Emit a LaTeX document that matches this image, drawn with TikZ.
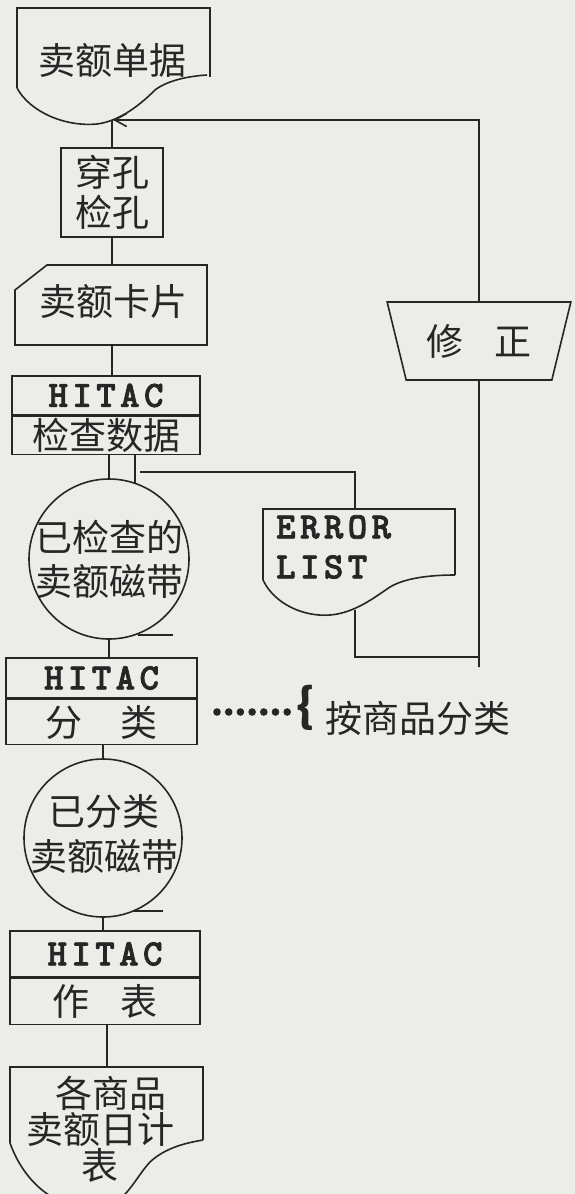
\documentclass[tikz,border=0pt]{standalone}
\usepackage{fontspec}
\setmainfont{Noto Sans CJK SC}
\newfontfamily\hitacfont{lmmonolt10-bold.otf}[LetterSpace=12, FakeBold=2]
\usetikzlibrary{arrows.meta, shapes.geometric, calc}
\definecolor{paper}{RGB}{236,236,232}
\definecolor{ink}{RGB}{38,38,38}
\tikzset{
	inkline/.style = {draw=ink, line width=1.6pt},
	cjk/.style = {font=\fontsize{37}{44}\selectfont, text=ink, inner sep=0pt, align=center},
	mono/.style = {font=\fontsize{37}{40}\hitacfont, text=ink, inner sep=0pt, align=left},
	procbox/.style = {inkline, cjk, rectangle},
	headbox/.style = {inkline, mono, rectangle, align=center},
	tapering/.style = {inkline, circle, inner sep=0pt},
}

\begin{document}
\begin{tikzpicture}[x=1pt, y=-1pt]
	\fill[paper] (0,0) rectangle (575,1194);
	\useasboundingbox (0,0) rectangle (575,1194);

	\node[cjk] (src) at (112,61) {卖额单据};
	\draw[inkline] (17,88) -- (17,8) -- (210,8) -- (210,77);
	\draw[inkline] (17,88) .. controls (30,112) and (65,127) .. (97,124) .. controls (120,121) and (140,105) .. (155,90) .. controls (168,80) and (190,76) .. (207,75);
	\coordinate (src in) at (113,120);

	\node[procbox, minimum width=102pt, minimum height=89pt, font=\fontsize{37}{40}\selectfont] (punch) at (112,192.5) {穿孔\\检孔};
	\draw[inkline] (punch.north) -- (punch.north |- src in);

	\node[cjk] (card) at (113,302) {卖额卡片};
	\draw[inkline] (47,265) -- (207,265) -- (207,345) -- (15,345) -- (15,290) -- cycle;
	\coordinate (card top) at (112,265);
	\coordinate (card bot) at (112,345);
	\draw[inkline] (punch.south) -- (card top);

	\node[headbox, minimum width=188pt, minimum height=39pt] (chk head) at (106,395.5) {HITAC};
	\node[procbox, minimum width=188pt, minimum height=38pt, anchor=north] (chk body) at (chk head.south) {检查数据};
	\draw[inkline] (card bot) -- (card bot |- chk head.north);

	\node[tapering, minimum size=160pt] (tape1) at (109,559) {};
	\node[cjk] (tape1 text) at (tape1) {已检查的\\卖额磁带};
	\draw[inkline] ($(tape1.south)+(29,-5)$) -- ++(35,0);
	\draw[inkline] (chk body.south -| tape1) -- (tape1.north);
	\draw[inkline] ($(chk body.south)+(29,0)$) -- ++(0,28);

	\node[mono, anchor=west] (err) at (276,547) {ERROR\\LIST};
	\draw[inkline] (263,580) -- (263,509) -- (455,509) -- (455,575);
	\draw[inkline] (263,580) .. controls (275,605) and (305,617) .. (330,615) .. controls (355,613) and (375,597) .. (390,587) .. controls (405,578) and (430,575) .. (455,575);
	\coordinate (err top) at (355,509);
	\coordinate (err tap) at (140,472);
	\coordinate (err bot) at (355,610);
	\draw[inkline] (err tap) -| (err top);

	\node[trapezium, shape border rotate=180, trapezium stretches, trapezium left angle=68, trapezium right angle=68, minimum width=184pt, minimum height=78pt, inkline, cjk] (fix) at (479,341) {修\hspace{0.85em}正};
	\coordinate (loop) at (479,657);
	\draw[inkline] (err bot) |- (loop);
	\draw[inkline] (fix.south) -- ($(loop)+(0,10)$);
	\draw[inkline, -{Straight Barb[length=12pt, width=13pt]}] (fix.north) |- (src in);

	\node[headbox, minimum width=191pt, minimum height=40pt] (sort head) at (101.5,678) {HITAC};
	\node[procbox, minimum width=191pt, minimum height=45pt, anchor=north] (sort body) at (sort head.south) {分\hspace{1.05em}类};
	\draw[inkline] (tape1.south) -- (tape1.south |- sort head.north);

	\foreach \d in {0,...,6}
		\fill[ink] (217+11.7*\d,712) circle (3.8);
	\node[cjk, font=\fontsize{46}{46}\selectfont\bfseries] (brace) at (306,708) {\{};
	\node[cjk] (note) at (418,718) {按商品分类};

	\node[tapering, minimum size=158pt] (tape2) at (103,838) {};
	\node[cjk, font=\fontsize{37}{45}\selectfont] (tape2 text) at (104,834) {已分类\\卖额磁带};
	\draw[inkline] ($(tape2.south)+(30,-7)$) -- ++(30,0);
	\draw[inkline] (sort body.south -| tape2) -- (tape2.north);

	\node[headbox, minimum width=190pt, minimum height=46pt] (rep head) at (105,954) {HITAC};
	\node[procbox, minimum width=190pt, minimum height=46pt, anchor=north] (rep body) at (rep head.south) {作\hspace{0.85em}表};
	\draw[inkline] (tape2.south) -- (tape2.south |- rep head.north);

	\node[cjk, font=\fontsize{37}{36}\selectfont] (daily) at (100,1129) {\hspace*{0.6em}各商品\\卖额日计\\表};
	\draw[inkline] (10,1143) -- (10,1067) -- (203,1067) -- (203,1140);
	\draw[inkline] (10,1143) .. controls (25,1185) and (60,1212) .. (100,1208) .. controls (125,1205) and (135,1178) .. (150,1162) .. controls (165,1148) and (185,1143) .. (203,1140);
	\coordinate (daily top) at (107,1067);
	\draw[inkline] (rep body.south -| daily top) -- (daily top);
\end{tikzpicture}
\end{document}
